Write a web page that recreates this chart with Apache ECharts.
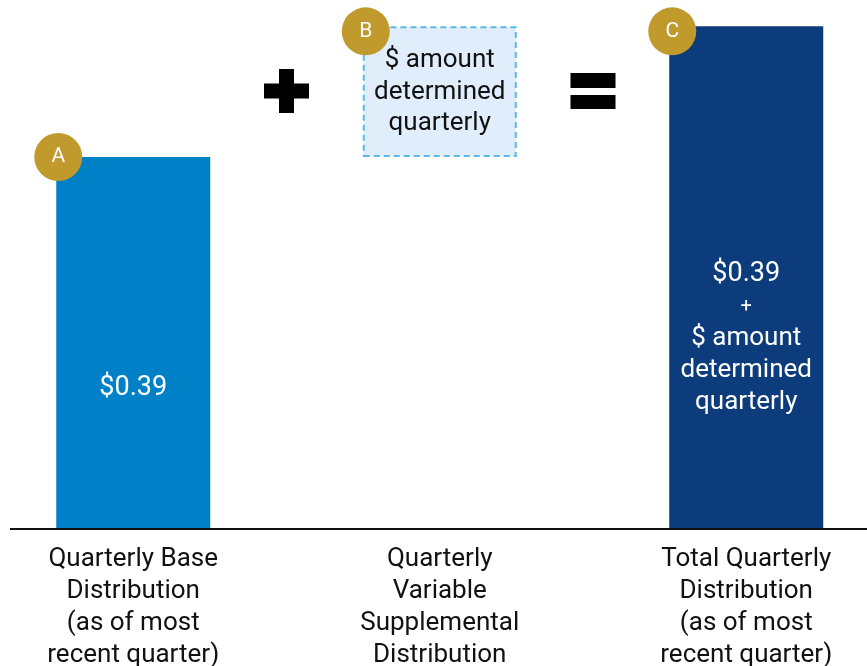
<!DOCTYPE html>
<html>
<head>
<meta charset="utf-8">
<script src="https://cdn.jsdelivr.net/npm/echarts@6/dist/echarts.min.js"></script>
<style>
html,body{margin:0;padding:0;background:#fff;overflow:hidden;width:867px;height:666px;}
#chart{position:absolute;left:-20px;top:0;width:920px;height:666px;}
</style>
</head>
<body>
<div id="chart"></div>
<script>
const categories = ['Quarterly Base\nDistribution\n(as of most\nrecent quarter)', 'Quarterly\nVariable\nSupplemental\nDistribution', 'Total Quarterly\nDistribution\n(as of most\nrecent quarter)'];
const baseValues = [0.39, '-', '-'];
const offsetValues = ['-', 0.39, '-'];
const variableValues = ['-', 0.137, '-'];
const totalValues = ['-', '-', 0.527];
const badgeLetters = ['A', 'B', 'C'];
const badgeValues = [0.39, 0.527, 0.527];

const FONT = 'Roboto, "Noto Sans", sans-serif';
const FS = 26;
const chart = echarts.init(document.getElementById('chart'), null, { width: 920, height: 666 });

const option = {
  animation: false,
  textStyle: { fontFamily: FONT },
  grid: { left: 0, width: 919.5, top: 4.4, height: 524.6, containLabel: false, outerBoundsMode: 'none' },
  xAxis: {
    type: 'category',
    data: categories,
    axisLine: { show: false },
    axisTick: { show: false },
    axisLabel: { color: '#111', fontSize: FS, lineHeight: 32, margin: 14, fontFamily: FONT, interval: 0 }
  },
  yAxis: { type: 'value', min: 0, max: 0.55, show: false, splitLine: { show: false } },
  series: [
    {
      name: 'Base', type: 'bar', stack: 's', barWidth: 154, data: baseValues,
      itemStyle: { color: '#0080c6' },
      label: { show: true, position: 'inside', offset: [0, 45], formatter: '$0.39', color: '#fff', fontSize: 27, fontFamily: FONT }
    },
    {
      name: 'Offset', type: 'bar', stack: 's', barWidth: 154, data: offsetValues,
      itemStyle: { color: 'rgba(0,0,0,0)' }, silent: true
    },
    {
      name: 'Variable', type: 'bar', stack: 's', barWidth: 154, data: variableValues,
      itemStyle: { color: '#dfeefa', borderColor: '#5bb8ea', borderWidth: 2, borderType: [6, 4] },
      label: { show: true, position: 'inside', offset: [0, 0.5], formatter: '$ amount\ndetermined\nquarterly', color: '#111', fontSize: FS, lineHeight: 31.5, fontFamily: FONT }
    },
    {
      name: 'Total', type: 'bar', stack: 's', barWidth: 154, data: totalValues,
      itemStyle: { color: '#0c3c7b' },
      label: {
        show: true, position: 'inside', offset: [0, 60.5],
        formatter: '{d|$0.39}\n{p|+}\n{a|$ amount}\n{a|determined}\n{a|quarterly}',
        rich: {
          d: { color: '#fff', fontSize: 27, lineHeight: 33, fontFamily: FONT },
          a: { color: '#fff', fontSize: FS, lineHeight: 32, fontFamily: FONT },
          p: { color: '#fff', fontSize: 20, lineHeight: 32, fontFamily: FONT }
        }
      }
    },
    {
      name: 'Badges', type: 'scatter', symbol: 'circle', symbolSize: 48, z: 10,
      data: badgeValues.map((v, i) => ({
        value: [i, v],
        symbolOffset: i === 0 ? [-75, 0] : [-74, 5],
        label: { formatter: badgeLetters[i] }
      })),
      itemStyle: { color: '#c19a2e', opacity: 1 },
      label: { show: true, position: 'inside', color: '#fff', fontSize: 21, fontFamily: FONT }
    }
  ]
};
chart.setOption(option);

// decorations: baseline and operator symbols placed between categories
const p0 = chart.convertToPixel({ gridIndex: 0 }, [0, 0]);
const p1 = chart.convertToPixel({ gridIndex: 0 }, [1, 0]);
const p2 = chart.convertToPixel({ gridIndex: 0 }, [2, 0]);
const plusX = (p0[0] + p1[0]) / 2;
const eqX = (p1[0] + p2[0]) / 2;
const cy = 91;
const baseY = p0[1];
chart.setOption({
  graphic: [
    { type: 'line', shape: { x1: 30, y1: baseY, x2: 920, y2: baseY }, style: { stroke: '#111', lineWidth: 2 }, z: 5 },
    { type: 'rect', shape: { x: plusX - 22.5, y: cy - 7.5, width: 45, height: 15 }, style: { fill: '#000' } },
    { type: 'rect', shape: { x: plusX - 7.5, y: cy - 22, width: 15, height: 44 }, style: { fill: '#000' } },
    { type: 'rect', shape: { x: eqX - 22.5, y: cy - 18, width: 45, height: 15 }, style: { fill: '#000' } },
    { type: 'rect', shape: { x: eqX - 22.5, y: cy + 4, width: 45, height: 14 }, style: { fill: '#000' } }
  ]
});
</script>
</body>
</html>
